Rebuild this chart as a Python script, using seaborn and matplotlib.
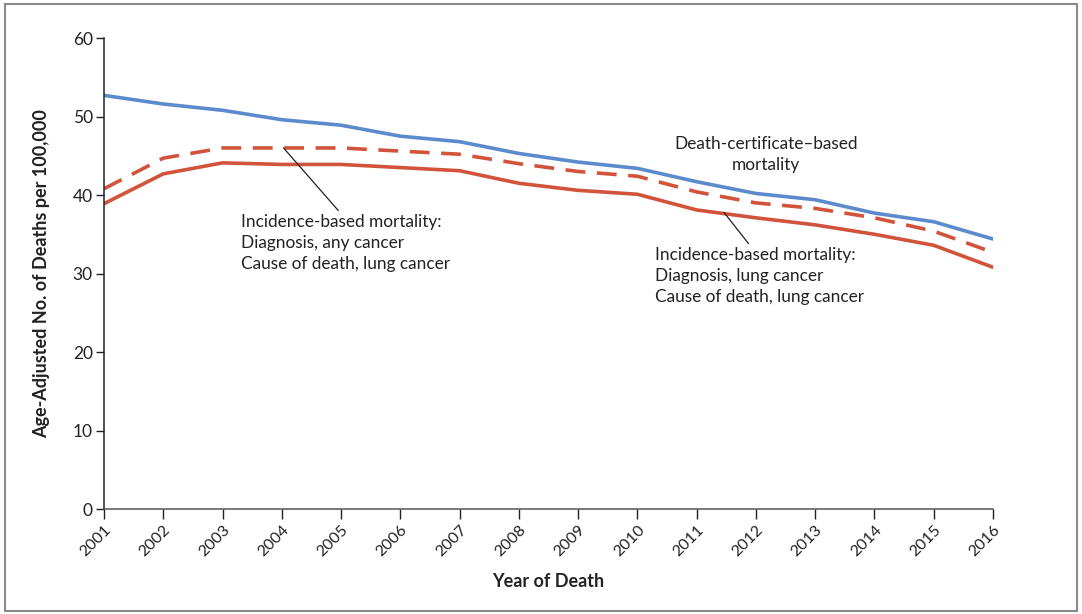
import matplotlib
matplotlib.use("Agg")
import matplotlib.pyplot as plt
import seaborn as sns
import pandas as pd
from matplotlib.patches import Rectangle

years = list(range(2001, 2017))
death_certificate = [52.7, 51.6, 50.8, 49.6, 48.9, 47.5, 46.8, 45.3, 44.2, 43.4,
                     41.7, 40.2, 39.4, 37.7, 36.6, 34.4]
ibm_any_cancer = [40.8, 44.7, 46.0, 46.0, 46.0, 45.6, 45.2, 44.0, 43.0, 42.4,
                  40.4, 39.0, 38.3, 37.1, 35.4, 32.7]
ibm_lung_cancer = [38.9, 42.7, 44.1, 43.9, 43.9, 43.5, 43.1, 41.5, 40.6, 40.1,
                   38.1, 37.1, 36.2, 35.0, 33.6, 30.8]

BLUE = "#5b8bcc"
RED = "#d2533b"
INK = "#222222"

sns.set_theme(style="ticks")
plt.rcParams["font.family"] = ["Lato", "DejaVu Sans"]
plt.rcParams["axes.edgecolor"] = INK
plt.rcParams["xtick.color"] = INK
plt.rcParams["ytick.color"] = INK

df = pd.DataFrame({
    "year": years,
    "dc": death_certificate,
    "any": ibm_any_cancer,
    "lung": ibm_lung_cancer,
})

fig = plt.figure(figsize=(10.82, 6.14), dpi=100)
ax = fig.add_axes([0.0961, 0.171, 0.8216, 0.767])

sns.lineplot(data=df, x="year", y="dc", ax=ax, color=BLUE, lw=2.6)
sns.lineplot(data=df, x="year", y="lung", ax=ax, color=RED, lw=2.6)
sns.lineplot(data=df, x="year", y="any", ax=ax, color=RED, lw=2.6)
ax.lines[-1].set_dashes((5.5, 3.2))

ax.set_xlim(2001, 2016)
ax.set_ylim(0, 60)
ax.set_yticks(range(0, 61, 10))
ax.set_xticks(years)
ax.set_xticklabels([str(y) for y in years], rotation=45, ha="right", va="top",
                   rotation_mode="anchor", fontsize=11.5, color=INK)
ax.tick_params(axis="y", labelsize=12.5, length=6, width=1, labelcolor=INK, pad=2)
ax.tick_params(axis="x", length=7, width=1, pad=3)
for s in ("top", "right"):
    ax.spines[s].set_visible(False)
ax.spines["left"].set_linewidth(1.1)
ax.spines["bottom"].set_linewidth(1.1)
ax.spines["bottom"].set_color("#555555")

ax.set_ylabel("Age-Adjusted No. of Deaths per 100,000", fontsize=13,
              fontweight="bold", color=INK, labelpad=16)
ax.set_xlabel("Year of Death", fontsize=13, fontweight="bold",
              color=INK, labelpad=10)

txt_kw = dict(fontsize=12.4, color=INK, linespacing=1.4)

ax.annotate("Incidence-based mortality:\nDiagnosis, any cancer\nCause of death, lung cancer",
            xy=(2004.03, 46.0), xytext=(2003.31, 37.6),
            ha="left", va="top", **txt_kw,
            arrowprops=dict(arrowstyle="-", color=INK, lw=0.9,
                            shrinkA=0, shrinkB=0, relpos=(0.47, 1.04)))

ax.text(2012.17, 45.2, "Death-certificate\u2013based\nmortality",
        ha="center", va="center", **txt_kw)

ax.annotate("Incidence-based mortality:\nDiagnosis, lung cancer\nCause of death, lung cancer",
            xy=(2011.46, 37.8), xytext=(2010.30, 33.4),
            ha="left", va="top", **txt_kw,
            arrowprops=dict(arrowstyle="-", color=INK, lw=0.9,
                            shrinkA=0, shrinkB=0, relpos=(0.45, 1.04)))

fig.patches.append(Rectangle((5 / 1082, 3 / 614), 1072 / 1082, 607 / 614,
                             transform=fig.transFigure, fill=False,
                             edgecolor="#8a8a8a", lw=1.5))

fig.savefig("out.png", dpi=100)
